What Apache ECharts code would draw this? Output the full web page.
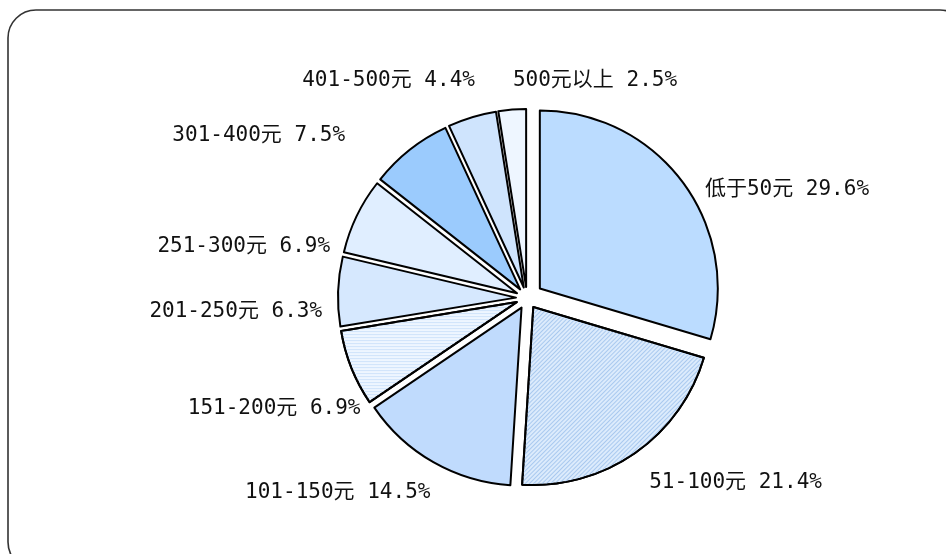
<!DOCTYPE html>
<html>
<head>
<meta charset="utf-8">
<style>
  html, body { margin: 0; padding: 0; background: #fff; }
  #chart { width: 946px; height: 554px; }
</style>
<script src="https://cdn.jsdelivr.net/npm/echarts@6/dist/echarts.min.js"></script>
</head>
<body>
<div id="chart"></div>
<script>
// 消费金额分布（%）
const categories = ['低于50元', '51-100元', '101-150元', '151-200元', '201-250元', '251-300元', '301-400元', '401-500元', '500元以上']
const shares = [29.6, 21.4, 14.5, 6.9, 6.3, 6.9, 7.5, 4.4, 2.5]
const colors = ['#bbdcff', '#dcebfc', '#c0dbfd', '#eef6ff', '#d6e8fe', '#e0eeff', '#9bcbfd', '#cfe4fd', '#eef6ff']
// 标签微调（相对默认位置）
const labelShift = [[13, 6], [-5, 18], [15, 18], [33, 35], [9, 21], [-3, 37], [-45, -3], [18, -23], [177, -15]]

const chart = echarts.init(document.getElementById('chart'))

const labelFont = '"DejaVu Sans Mono", "Noto Sans CJK SC", monospace'
const center = [527, 298]
const radius = 178

// Excel 风格的细纹理：51-100 斜线，151-200 横线
const decals = {
    1: { symbol: 'rect', dashArrayX: [1, 0], dashArrayY: [1, 2], rotation: -Math.PI / 4, color: '#a9c9ef' },
    3: { symbol: 'rect', dashArrayX: [1, 0], dashArrayY: [1, 2], rotation: 0, color: '#cfe3fb' }
}

// 第一块单独拉开更远，其余扇区小幅分离
const restData = categories.map((name, i) => ({
    name,
    value: shares[i],
    selected: i !== 0,
    itemStyle: i === 0
        ? { color: 'rgba(0,0,0,0)', borderWidth: 0 }
        : (decals[i] ? { color: colors[i], decal: decals[i] } : { color: colors[i] })
}))
const firstData = categories.map((name, i) => ({
    name,
    value: shares[i],
    selected: i === 0,
    itemStyle: i === 0
        ? { color: colors[i] }
        : { color: 'rgba(0,0,0,0)', borderWidth: 0 }
}))

const option = {
    animation: false,
    aria: { enabled: false, decal: { show: false } },
    graphic: [{
        type: 'rect',
        shape: { x: 8, y: 10, width: 960, height: 560, r: 28 },
        style: { fill: 'none', stroke: '#333', lineWidth: 1.6 },
        silent: true
    }],
    series: [
        {
            type: 'pie',
            silent: true,
            center,
            radius,
            startAngle: 90,
            selectedMode: 'multiple',
            selectedOffset: 16,
            itemStyle: { borderColor: '#000', borderWidth: 2 },
            label: { show: false },
            labelLine: { show: false },
            data: firstData
        },
        {
            type: 'pie',
            silent: true,
            center,
            radius,
            startAngle: 90,
            selectedMode: 'multiple',
            selectedOffset: 11,
            avoidLabelOverlap: false,
            itemStyle: { borderColor: '#000', borderWidth: 2 },
            label: {
                show: true,
                position: 'outside',
                color: '#111',
                fontSize: 21,
                fontFamily: labelFont,
                formatter: p => p.name + ' ' + p.value.toFixed(1) + '%'
            },
            labelLine: { show: false, length: 14, length2: 6 },
            labelLayout: params => {
                const s = labelShift[params.dataIndex]
                return { dx: s[0], dy: s[1], hideOverlap: false, moveOverlap: null }
            },
            data: restData
        }
    ]
}

chart.setOption(option)
</script>
</body>
</html>
